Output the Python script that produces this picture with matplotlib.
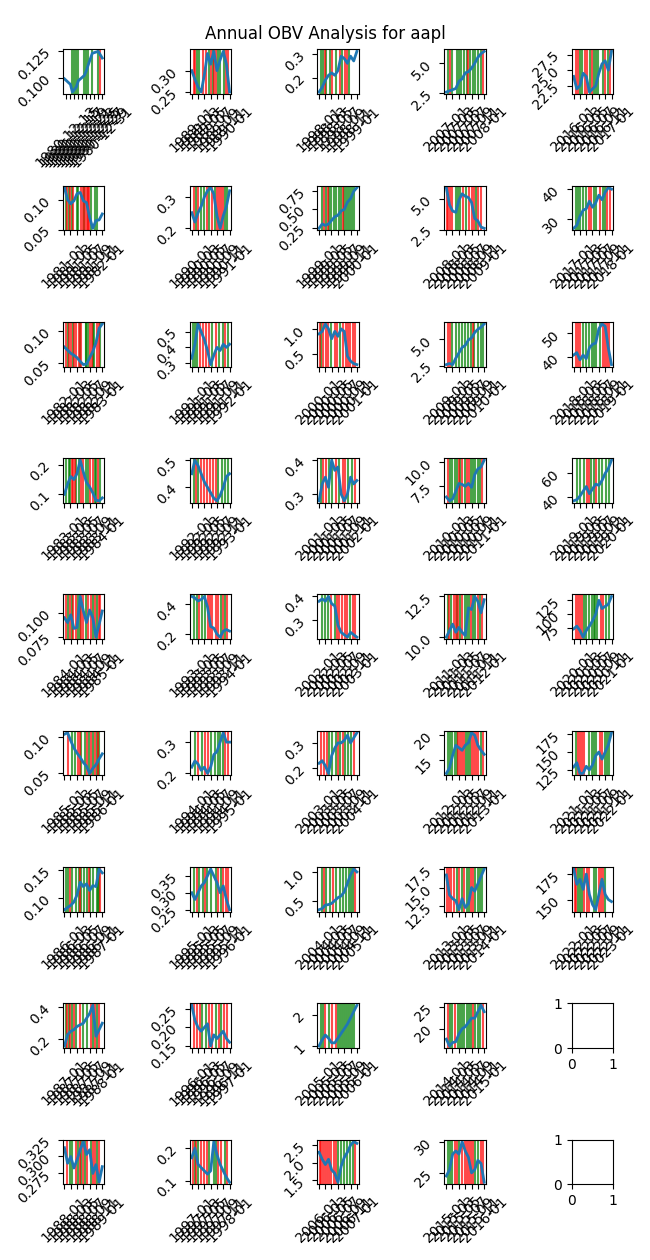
"""
Annual OBV analysis grid: one small panel per calendar year,
close price with the OBV up/down signal days marked as vertical lines.
"""
import numpy as np
import pandas as pd
import matplotlib
matplotlib.use("Agg")
import matplotlib.pyplot as plt


TICKER = "aapl"
YEARS = list(range(1980, 2023))
N_ROWS, N_COLS = 9, 5

# --------------------------------------------------------------------------- #
# Data
#   price_YYYY : close price, sampled evenly through the year
#   up_YYYY    : day of year (0 = Jan 1) with an OBV up signal   -> green
#   down_YYYY  : day of year with an OBV down signal             -> red
# 1980 starts at the December listing, so it keeps its own trading dates.
# --------------------------------------------------------------------------- #

dates_1980 = ["1980-12-12", "1980-12-15", "1980-12-16", "1980-12-17", "1980-12-18",
              "1980-12-19", "1980-12-22", "1980-12-23", "1980-12-24", "1980-12-26",
              "1980-12-29", "1980-12-30", "1980-12-31"]
price_1980 = [0.0993, 0.0942, 0.0872, 0.0894, 0.0920, 0.0976, 0.1024, 0.1066,
              0.1123, 0.1227, 0.1244, 0.1213, 0.1183]
up_1980 = [350, 351, 352, 353, 356, 357, 358, 360, 363]
down_1980 = [364]

price_1981 = [0.120, 0.100, 0.093, 0.098, 0.110, 0.112, 0.098, 0.095, 0.070, 0.052, 0.065, 0.066, 0.076]
up_1981 = [15, 44, 73, 120, 135, 190, 252, 292, 314]
down_1981 = [29, 58, 84, 157, 175, 201, 219, 230, 241]

price_1982 = [0.075, 0.070, 0.065, 0.062, 0.058, 0.052, 0.047, 0.048, 0.058, 0.068, 0.082, 0.105, 0.112]
up_1982 = [37, 80, 146, 205, 212, 226, 274, 285, 347]
down_1982 = [18, 44, 66, 91, 110, 139, 164, 248, 263, 310, 329]

price_1983 = [0.100, 0.135, 0.160, 0.150, 0.170, 0.215, 0.175, 0.140, 0.125, 0.105, 0.080, 0.078, 0.088]
up_1983 = [18, 44, 58, 110, 139, 212, 226, 292, 303, 347]
down_1983 = [73, 84, 99, 164, 183, 248, 274, 321]

price_1984 = [0.095, 0.090, 0.098, 0.084, 0.085, 0.117, 0.102, 0.090, 0.103, 0.095, 0.075, 0.088, 0.102]
up_1984 = [37, 73, 128, 146, 212, 274, 310]
down_1984 = [18, 55, 80, 110, 164, 183, 226, 256, 292, 329, 347]

price_1985 = [0.104, 0.106, 0.095, 0.085, 0.078, 0.072, 0.065, 0.060, 0.050, 0.057, 0.062, 0.070, 0.077]
up_1985 = [73, 102, 164, 201, 237, 274, 310, 336]
down_1985 = [37, 128, 146, 219, 256, 292, 321]

price_1986 = [0.078, 0.082, 0.086, 0.092, 0.105, 0.128, 0.120, 0.125, 0.113, 0.122, 0.120, 0.152, 0.145]
up_1986 = [18, 37, 73, 110, 139, 164, 190, 219, 248, 274, 310, 321, 329]
down_1986 = [55, 153, 237, 347]

price_1987 = [0.160, 0.230, 0.250, 0.260, 0.280, 0.290, 0.300, 0.330, 0.360, 0.410, 0.220, 0.260, 0.300]
up_1987 = [18, 44, 73, 110, 183, 219, 274, 310]
down_1987 = [29, 55, 91, 146, 256, 292, 329]

price_1988 = [0.313, 0.290, 0.300, 0.283, 0.295, 0.310, 0.322, 0.303, 0.310, 0.275, 0.288, 0.262, 0.285]
up_1988 = [55, 73, 128, 164, 201, 256, 310]
down_1988 = [29, 110, 146, 183, 219, 274, 292, 329]

price_1989 = [0.300, 0.280, 0.262, 0.250, 0.290, 0.340, 0.315, 0.345, 0.300, 0.325, 0.345, 0.315, 0.250]
up_1989 = [55, 73, 164, 201, 256, 274, 310]
down_1989 = [18, 37, 110, 139, 183, 219, 237, 329, 347]

price_1990 = [0.25, 0.22, 0.25, 0.27, 0.30, 0.32, 0.33, 0.31, 0.24, 0.20, 0.24, 0.27, 0.32]
up_1990 = [40, 90, 120, 170, 220, 320, 340]
down_1990 = [20, 60, 150, 200, 240, 265, 280, 300]

price_1991 = [0.33, 0.42, 0.55, 0.50, 0.45, 0.38, 0.29, 0.35, 0.40, 0.38, 0.42, 0.40, 0.42]
up_1991 = [10, 30, 50, 200, 260, 300, 350]
down_1991 = [80, 110, 140, 170, 230, 320]

price_1992 = [0.45, 0.50, 0.48, 0.45, 0.42, 0.40, 0.38, 0.36, 0.35, 0.37, 0.40, 0.44, 0.45]
up_1992 = [20, 60, 250, 290, 320, 350]
down_1992 = [40, 90, 120, 150, 180, 210, 230]

price_1993 = [0.45, 0.44, 0.42, 0.43, 0.45, 0.38, 0.25, 0.24, 0.20, 0.18, 0.22, 0.23, 0.22]
up_1993 = [20, 50, 100, 130, 280, 320]
down_1993 = [70, 160, 180, 200, 230, 250, 300, 340]

price_1994 = [0.22, 0.24, 0.23, 0.21, 0.22, 0.20, 0.22, 0.26, 0.27, 0.30, 0.33, 0.30, 0.30]
up_1994 = [30, 100, 190, 220, 250, 270, 300]
down_1994 = [60, 130, 160, 320, 350]

price_1995 = [0.30, 0.28, 0.30, 0.32, 0.33, 0.35, 0.37, 0.35, 0.33, 0.30, 0.32, 0.28, 0.25]
up_1995 = [20, 70, 110, 150, 190, 230, 280]
down_1995 = [50, 130, 250, 300, 330, 350]

price_1996 = [0.26, 0.22, 0.20, 0.19, 0.20, 0.21, 0.15, 0.18, 0.17, 0.18, 0.19, 0.17, 0.16]
up_1996 = [100, 140, 230, 280]
down_1996 = [20, 50, 80, 170, 200, 260, 310, 340]

price_1997 = [0.17, 0.20, 0.15, 0.14, 0.13, 0.12, 0.13, 0.22, 0.18, 0.15, 0.13, 0.11, 0.095]
up_1997 = [30, 60, 170, 210, 230, 320]
down_1997 = [15, 45, 90, 120, 150, 250, 280, 340]

price_1998 = [0.14, 0.16, 0.19, 0.21, 0.22, 0.21, 0.23, 0.29, 0.28, 0.26, 0.29, 0.27, 0.31]
up_1998 = [20, 40, 70, 110, 160, 220, 290]
down_1998 = [60, 130, 200, 250, 270]

price_1999 = [0.24, 0.30, 0.28, 0.30, 0.35, 0.40, 0.42, 0.48, 0.50, 0.60, 0.65, 0.75, 0.80]
up_1999 = [30, 70, 100, 120, 140, 160, 190, 210, 240, 260, 280, 300, 320, 340]
down_1999 = [50, 90, 230]

price_2000 = [0.90, 0.95, 1.10, 1.00, 0.80, 0.95, 0.85, 1.00, 0.95, 0.45, 0.35, 0.30, 0.28]
up_2000 = [20, 120, 200]
down_2000 = [10, 40, 70, 90, 150, 170, 230, 260, 280, 300, 330, 350]

price_2001 = [0.28, 0.33, 0.35, 0.32, 0.40, 0.37, 0.38, 0.30, 0.28, 0.30, 0.35, 0.33, 0.34]
up_2001 = [20, 100, 130, 190, 280, 320]
down_2001 = [40, 70, 160, 230, 250, 350]

price_2002 = [0.38, 0.39, 0.38, 0.40, 0.37, 0.36, 0.28, 0.25, 0.24, 0.23, 0.25, 0.24, 0.23]
up_2002 = [30, 60, 90, 150, 300]
down_2002 = [120, 170, 190, 220, 250, 270, 330, 350]

price_2003 = [0.22, 0.23, 0.21, 0.18, 0.25, 0.28, 0.30, 0.30, 0.31, 0.33, 0.30, 0.32, 0.34]
up_2003 = [100, 130, 160, 200, 250, 280, 310]
down_2003 = [20, 50, 80, 180, 230, 340]

price_2004 = [0.34, 0.36, 0.42, 0.43, 0.45, 0.50, 0.55, 0.58, 0.65, 0.80, 0.95, 1.05, 1.00]
up_2004 = [30, 70, 110, 160, 200, 230, 260, 290, 310, 330]
down_2004 = [50, 140, 350]

price_2005 = [1.00, 1.20, 1.35, 1.25, 1.10, 1.10, 1.25, 1.40, 1.55, 1.70, 1.90, 2.10, 2.30]
up_2005 = [20, 40, 100, 180, 200, 220, 240, 260, 280, 300, 320, 340]
down_2005 = [60, 130, 160]

price_2006 = [2.30, 2.10, 1.95, 2.10, 1.80, 1.70, 1.45, 1.90, 2.15, 2.30, 2.50, 2.60, 2.55]
up_2006 = [180, 210, 240, 270, 300, 330]
down_2006 = [10, 20, 40, 60, 80, 100, 120, 140, 160, 350]

price_2007 = [2.60, 2.70, 2.80, 2.90, 3.50, 3.70, 4.20, 4.30, 4.60, 5.00, 5.50, 5.80, 6.00]
up_2007 = [20, 60, 100, 120, 140, 170, 200, 230, 260, 280, 300, 330]
down_2007 = [40, 210, 350]

price_2008 = [5.90, 4.50, 4.00, 3.90, 4.90, 5.40, 5.20, 5.10, 4.70, 3.40, 3.20, 2.70, 2.60]
up_2008 = [90, 110, 130, 190, 290]
down_2008 = [10, 20, 40, 60, 160, 220, 250, 270, 310, 330]

price_2009 = [2.60, 2.70, 2.60, 3.20, 3.70, 4.20, 4.40, 4.90, 5.10, 5.60, 5.90, 6.10, 6.40]
up_2009 = [60, 90, 120, 150, 180, 210, 240, 270, 300, 330, 350]
down_2009 = [20, 40, 260]

price_2010 = [6.40, 6.00, 6.20, 7.00, 7.80, 7.70, 7.50, 7.80, 7.40, 8.70, 9.30, 9.50, 10.2]
up_2010 = [40, 60, 80, 100, 130, 180, 240, 260, 280, 300, 320]
down_2010 = [20, 120, 150, 200, 220, 340]

price_2011 = [10.0, 10.4, 10.8, 10.3, 10.6, 10.3, 10.1, 11.8, 11.7, 12.5, 12.2, 11.5, 12.3]
up_2011 = [20, 50, 100, 130, 180, 200, 220, 260, 280, 320]
down_2011 = [30, 70, 90, 110, 150, 240, 300, 340]

price_2012 = [12.4, 13.5, 16.0, 18.0, 17.5, 17.0, 18.0, 18.5, 20.5, 20.0, 18.0, 17.0, 16.2]
up_2012 = [20, 40, 60, 80, 100, 190, 210, 230, 330]
down_2012 = [110, 130, 150, 170, 250, 270, 290, 310, 350]

price_2013 = [16.7, 14.0, 13.5, 13.2, 12.0, 13.5, 12.3, 12.8, 15.0, 14.5, 15.5, 16.5, 17.5]
up_2013 = [100, 150, 200, 220, 280, 300, 320, 340]
down_2013 = [10, 30, 50, 70, 120, 170, 240, 260]

price_2014 = [17.6, 16.0, 16.8, 17.0, 18.8, 20.0, 20.5, 21.5, 22.5, 22.5, 24.0, 25.5, 24.0]
up_2014 = [40, 60, 110, 130, 150, 170, 200, 220, 240, 280, 300, 320]
down_2014 = [20, 80, 260, 350]

price_2015 = [24.5, 25.5, 28.0, 28.5, 28.0, 30.0, 28.5, 27.5, 25.0, 25.5, 27.0, 26.5, 23.5]
up_2015 = [20, 40, 60, 120, 280, 300]
down_2015 = [80, 100, 150, 180, 200, 220, 240, 260, 330, 350]

price_2016 = [24.0, 22.0, 22.5, 24.5, 24.0, 21.5, 22.0, 22.5, 24.5, 26.0, 26.5, 25.0, 28.0]
up_2016 = [60, 80, 160, 200, 220, 240, 280, 330]
down_2016 = [20, 40, 110, 130, 180, 300, 350]

price_2017 = [27.0, 28.0, 31.0, 33.0, 33.5, 36.0, 34.0, 35.5, 38.0, 36.5, 39.0, 40.5, 40.0]
up_2017 = [20, 40, 60, 90, 120, 200, 220, 280, 300]
down_2017 = [150, 170, 250, 320, 350]

price_2018 = [41.0, 42.0, 39.0, 41.0, 39.5, 44.0, 45.5, 46.0, 52.0, 54.0, 53.0, 44.0, 37.0]
up_2018 = [90, 120, 150, 180, 200, 220, 250]
down_2018 = [20, 40, 60, 280, 300, 320, 340]

price_2019 = [37.0, 38.0, 41.0, 45.0, 49.0, 43.0, 47.0, 51.0, 50.0, 54.0, 60.0, 64.0, 71.0]
up_2019 = [30, 60, 100, 170, 200, 240, 275, 310, 345]
down_2019 = [130, 150, 220]

price_2020 = [73.0, 78.0, 70.0, 58.0, 70.0, 78.0, 88.0, 100.0, 125.0, 110.0, 114.0, 118.0, 132.0]
up_2020 = [100, 120, 150, 180, 200, 210, 230, 310, 340]
down_2020 = [20, 40, 60, 80, 260, 280]

price_2021 = [129.0, 135.0, 120.0, 120.0, 130.0, 125.0, 132.0, 145.0, 150.0, 140.0, 150.0, 160.0, 177.0]
up_2021 = [20, 150, 180, 200, 220, 300, 320, 340]
down_2021 = [40, 60, 80, 100, 250, 270]

price_2022 = [180.0, 165.0, 170.0, 160.0, 175.0, 155.0, 145.0, 140.0, 155.0, 170.0, 155.0, 150.0, 148.0]
up_2022 = [40, 60, 80, 200, 220, 300]
down_2022 = [10, 20, 100, 130, 150, 240, 260, 280]


def year_series(year):
    """Dates and prices for one year, plus its up/down signal dates."""
    price = globals()[f"price_{year}"]
    if year == 1980:
        dates = pd.to_datetime(dates_1980)
    else:
        dates = pd.date_range(f"{year}-01-02", f"{year}-12-31", periods=len(price))
    jan1 = pd.Timestamp(f"{year}-01-01")
    up = [jan1 + pd.Timedelta(days=d) for d in globals()[f"up_{year}"]]
    down = [jan1 + pd.Timedelta(days=d) for d in globals()[f"down_{year}"]]
    return dates, price, up, down


# --------------------------------------------------------------------------- #
# Plotting
# --------------------------------------------------------------------------- #

fig, axes = plt.subplots(N_ROWS, N_COLS, figsize=(6.5, 12.6))
fig.suptitle(f"Annual OBV Analysis for {TICKER}")

for i, year in enumerate(YEARS):
    ax = axes[i % N_ROWS, i // N_ROWS]
    dates, price, up, down = year_series(year)
    for d in up:
        ax.axvline(d, color="green", alpha=0.7)
    for d in down:
        ax.axvline(d, color="red", alpha=0.7)
    ax.plot(dates, price, lw=2)
    ax.tick_params(labelrotation=45)

plt.tight_layout()
plt.savefig("out.png", dpi=100)
